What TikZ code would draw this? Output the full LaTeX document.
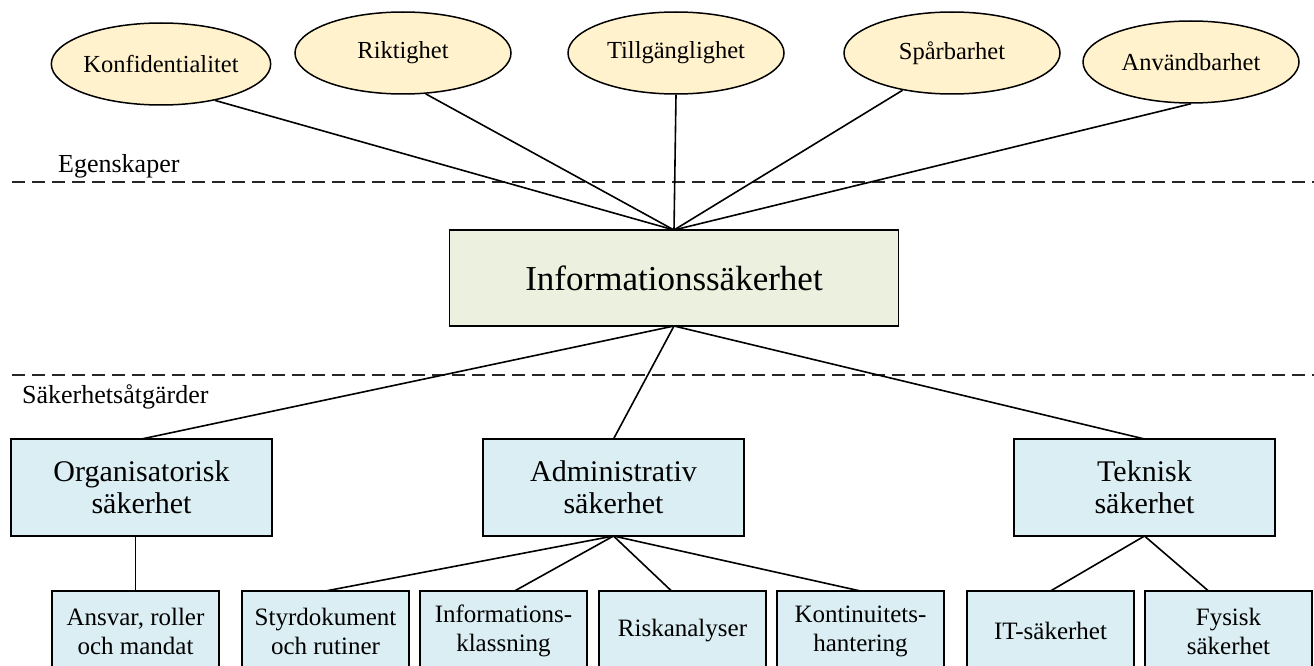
\documentclass[tikz,border=0pt]{standalone}
\usepackage{fontspec}
\setmainfont{Liberation Serif}
\usetikzlibrary{positioning,shapes.geometric}
\definecolor{ovalfill}{RGB}{255,242,204}
\definecolor{mainfill}{RGB}{235,241,222}
\definecolor{boxfill}{RGB}{218,238,243}

\begin{document}
\begin{tikzpicture}[x=1pt, y=-1pt]

\tikzstyle{ovalbox} = [ellipse, draw=black, line width=1.5pt, fill=ovalfill, minimum width=216pt, minimum height=82pt, inner sep=0pt, font=\fontsize{24.5}{28}\selectfont]
\tikzstyle{mainbox} = [rectangle, draw=black, line width=1.6pt, fill=mainfill, outer sep=0pt, minimum width=449pt, minimum height=96pt, font=\fontsize{35}{40}\selectfont]
\tikzstyle{areabox} = [rectangle, draw=black, line width=1.6pt, fill=boxfill, outer sep=0pt, minimum width=261pt, minimum height=97pt, align=center, font=\fontsize{30}{32}\selectfont]
\tikzstyle{subbox} = [rectangle, draw=black, line width=1.6pt, fill=boxfill, outer sep=0pt, minimum width=167pt, minimum height=80pt, align=center, font=\fontsize{25}{29}\selectfont]
\tikzstyle{seclabel} = [inner sep=0pt, font=\fontsize{26}{28}\selectfont]
\tikzstyle{sepline} = [line width=1.9pt, black!85, dash pattern=on 13pt off 7pt]
\tikzstyle{link} = [line width=1.6pt, black]

\useasboundingbox (0,0) rectangle (1314,666);
\clip (0,0) rectangle (1314,666);

% egenskaper
\node[ovalbox] (konf) at (161,64) {Konfidentialitet};
\node[ovalbox] (rikt) at (403,53) {Riktighet};
\node[ovalbox] (till) at (676,53) {Tillgänglighet};
\node[ovalbox] (spar) at (952,53) {Spårbarhet};
\node[ovalbox] (anvb) at (1191,62) {Användbarhet};

\draw[sepline] (12,182) -- (1314,182);
\node[seclabel, anchor=base west] (egen) at (58,172) {Egenskaper};

\node[mainbox] (info) at (674,278) {Informationssäkerhet};

\draw[link] (konf.-34) -- (info.north);
\draw[link] (rikt.-61) -- (info.north);
\draw[link] (till.south) -- (info.north);
\draw[link] (spar.-143) -- (info.north);
\draw[link] (anvb.south) -- (info.north);

\draw[sepline] (12,375) -- (1314,375);
\node[seclabel, anchor=base west] (atg) at (22,403) {Säkerhetsåtgärder};

% omraden
\node[areabox] (org) at (141.5,487.5) {Organisatorisk\\säkerhet};
\node[areabox, right=211pt of org] (adm) {Administrativ\\säkerhet};
\node[areabox, right=270pt of adm] (tek) {Teknisk\\säkerhet};

\draw[link] (info.south) -- (org.north);
\draw[link] (info.south) -- (adm.north);
\draw[link] (info.south) -- (tek.north);

% delomraden
\node[subbox] (ansv) at (135.5,631) {Ansvar, roller\\och mandat};
\node[subbox, right=23pt of ansv] (styr) {Styrdokument\\och rutiner};
\node[subbox, right=11pt of styr] (klass) {Informations-\\klassning};
\node[subbox, right=12pt of klass] (risk) {Riskanalyser};
\node[subbox, right=11pt of risk] (kont) {Kontinuitets-\\hantering};
\node[subbox, right=23pt of kont] (itsak) {IT-säkerhet};
\node[subbox, right=11pt of itsak] (fys) {Fysisk\\säkerhet};

\draw[link] (ansv.north |- org.south) -- (ansv.north);
\draw[link] (adm.south) -- (styr.north);
\draw[link] (adm.south) -- ([xshift=11pt]klass.north);
\draw[link] (adm.south) -- ([xshift=-11pt]risk.north);
\draw[link] (adm.south) -- (kont.north);
\draw[link] (tek.south) -- (itsak.north);
\draw[link] (tek.south) -- ([xshift=-20pt]fys.north);

\end{tikzpicture}
\end{document}
